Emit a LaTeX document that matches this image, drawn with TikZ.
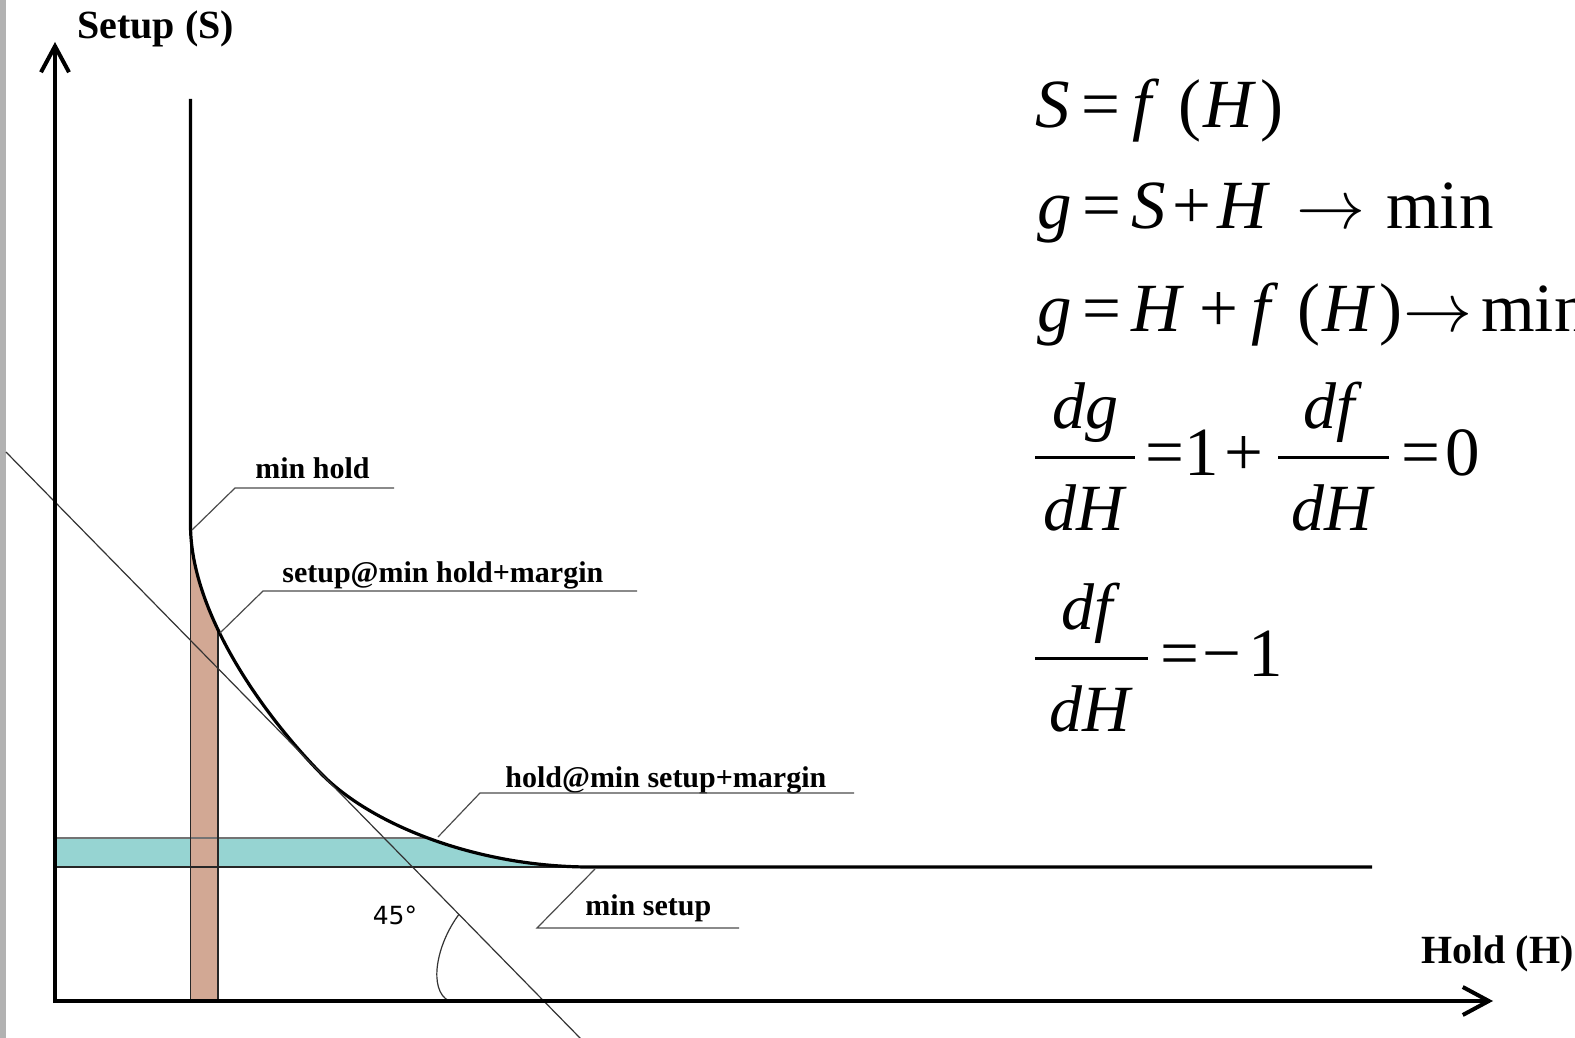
\documentclass[tikz,border=0pt]{standalone}
\usepackage{graphicx}
\usepackage{fontspec}
\setmainfont{Liberation Serif}
\newfontfamily\sansf{DejaVu Sans}
\usetikzlibrary{arrows.meta}
\definecolor{tealband}{HTML}{96D4D2}
\definecolor{brownband}{HTML}{D2A894}
\newcommand{\bigarrow}{\scalebox{3.45}{\fontsize{10}{12}\selectfont$\rightarrow$}}
\begin{document}
\begin{tikzpicture}[x=0.5pt,y=-0.5pt,
  axisline/.style={line width=2pt,-{Straight Barb[length=13pt,width=14pt]}},
  curveline/.style={line width=1.6pt,line join=round},
  thinline/.style={line width=0.6pt,black!85},
  leader/.style={line width=0.6pt,black!70},
  lbl/.style={font=\bfseries\fontsize{15}{18}\selectfont,inner sep=0pt,anchor=base west},
  axlbl/.style={font=\bfseries\fontsize{20}{24}\selectfont,inner sep=0pt,anchor=base west},
  eq/.style={font=\fontsize{34.5}{40}\selectfont,inner sep=0pt},
  frc/.style={font=\fontsize{33}{40}\selectfont,inner sep=0pt},
  fracbar/.style={line width=1.5pt}]
\useasboundingbox (0,0) rectangle (1575,1038);
\fill[white] (0,0) rectangle (1575,1038);
\fill[gray!60] (0,0) rectangle (6,1038);

% teal band
\begin{scope}
\clip (55,838) rectangle (590,867);
\fill[tealband] (55,99) -- (190.5,99) -- (190.5,525) .. controls (190.5,610) and (259,710.2) .. (321,773.5) .. controls (373,826.6) and (480,867) .. (590,867) -- (590,1001) -- (55,1001) -- cycle;
\end{scope}
% brown strip
\begin{scope}
\clip (190.5,500) rectangle (218,1001);
\fill[brownband] (55,99) -- (190.5,99) -- (190.5,525) .. controls (190.5,610) and (259,710.2) .. (321,773.5) .. controls (373,826.6) and (480,867) .. (590,867) -- (590,1001) -- (55,1001) -- cycle;
\end{scope}
% thin edges clipped to the region under the curve
\begin{scope}
\clip (55,99) -- (190.5,99) -- (190.5,525) .. controls (190.5,610) and (259,710.2) .. (321,773.5) .. controls (373,826.6) and (480,867) .. (590,867) -- (590,1001) -- (55,1001) -- cycle;
\draw[line width=0.6pt,black!55] (55,838) -- (600,838);
\draw[thinline] (218,500) -- (218,1001);
\end{scope}
\draw[thinline] (190.5,525) -- (190.5,1001);
\draw[thinline] (55,867) -- (590,867);

% curve S = f(H)
\draw[curveline] (190.5,99) -- (190.5,525) .. controls (190.5,610) and (259,710.2) .. (321,773.5) .. controls (373,826.6) and (480,867) .. (590,867) -- (1372,867);

% tangent at 45 degrees
\coordinate (dA) at (6,452);
\coordinate (dB) at (581,1039);
\draw[line width=0.6pt,black!80] (dA) -- (dB);
% angle mark
\coordinate (arcA) at (459,914.3);
\coordinate (arcB) at (449,1001);
\draw[line width=0.6pt,black!80] (arcA) .. controls (436,945) and (428,990) .. (arcB);
\node[font=\sansf\fontsize{12.5}{14}\selectfont,inner sep=0pt] (deg) at (395,915) {45°};

% axes
\coordinate (ytip) at (55,42);
\coordinate (xtip) at (1493,1001);
\draw[axisline] (55,1003) -- (ytip);
\draw[axisline] (53,1001) -- (xtip);
\node[axlbl] (ylab) at (77,39) {Setup (S)};
\node[axlbl] (xlab) at (1421,963) {Hold (H)};

% labels with leaders
\node[lbl] (lmh) at (255,478) {min hold};
\coordinate (mh0) at (192,530); \coordinate (mh1) at (235,488); \coordinate (mh2) at (394,488);
\draw[leader] (mh0) -- (mh1) -- (mh2);

\node[lbl] (lsm) at (282,582) {setup@min hold+margin};
\coordinate (sm0) at (220,633); \coordinate (sm1) at (263,591); \coordinate (sm2) at (637,591);
\draw[leader] (sm0) -- (sm1) -- (sm2);

\node[lbl] (lhm) at (505,787) {hold@min setup+margin};
\coordinate (hm0) at (438,837); \coordinate (hm1) at (480,793); \coordinate (hm2) at (854,793);
\draw[leader] (hm0) -- (hm1) -- (hm2);

\node[lbl] (lms) at (585,915) {min setup};
\coordinate (ms0) at (595,869); \coordinate (ms1) at (537,928); \coordinate (ms2) at (739,928);
\draw[leader] (ms0) -- (ms1) -- (ms2);

% equations
\node[eq,anchor=base west] (e1) at (1035,128) {\textit{S}\kern.17em=\kern.17em\textit{f}\kern.27em(\kern.03em\textit{H}\kern.07em)};
\node[eq,anchor=base west] (e2) at (1037,228) {\textit{g}\kern.15em=\kern.15em\textit{S}\kern.1em+\kern.08em\textit{H}\kern.38em\bigarrow\kern.3em min};
\node[eq,anchor=base west] (e3) at (1037,331) {\textit{g}\kern.15em=\kern.15em\textit{H}\kern.22em+\kern.19em\textit{f}\kern.27em(\kern.03em\textit{H}\kern.06em)\kern.02em\bigarrow\kern.12em min};

\node[frc,anchor=base] (n1) at (1085,428) {\textit{dg}};
\node[frc,anchor=base] (d1) at (1085,530) {\textit{dH}};
\draw[fracbar] (1035,457) -- (1135,457);
\node[eq,anchor=base west] (r1) at (1145,475) {=1\kern.08em+};
\node[frc,anchor=base] (n2) at (1333,428) {\textit{df}};
\node[frc,anchor=base] (d2) at (1333,530) {\textit{dH}};
\draw[fracbar] (1278,457) -- (1389,457);
\node[eq,anchor=base west] (r2) at (1401,475) {=\kern.08em0};

\node[frc,anchor=base] (n3) at (1091,629) {\textit{df}};
\node[frc,anchor=base] (d3) at (1091,731) {\textit{dH}};
\draw[fracbar] (1035,658) -- (1148,658);
\node[eq,anchor=base west] (r3) at (1160,676) {=\kern.05em−\kern.1em1};
\end{tikzpicture}
\end{document}
